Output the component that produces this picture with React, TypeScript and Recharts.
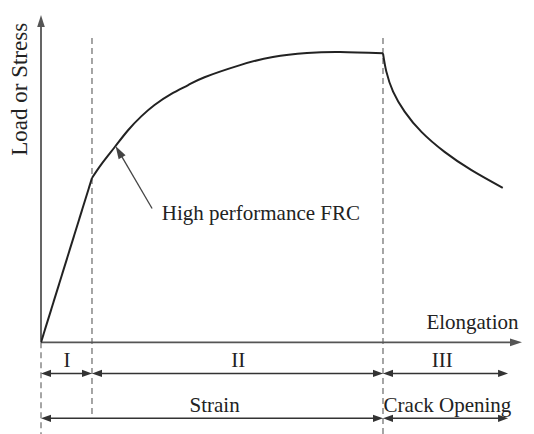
import React from "react";
import { LineChart, Line, XAxis, YAxis, ReferenceLine, ReferenceDot } from "recharts";

// Elongation (x) and Load/Stress (y), arbitrary units
const elasticX = [0, 10.6];
const elasticY = [0, 50.2];
const hardeningX = [10.6, 12.5, 15.3, 18.1, 20.9, 23.6, 27.1, 30.6, 34.0, 41.4, 48.2, 55.3, 62.2, 71.1];
const hardeningY = [50.2, 54.3, 59.6, 64.8, 69.1, 72.5, 75.9, 78.6, 81.0, 84.7, 87.2, 88.4, 88.7, 88.3];
const softeningX = [71.1, 71.8, 73.2, 75.6, 79.1, 83.9, 89.5, 96.0];
const softeningY = [88.3, 82.7, 76.6, 70.5, 64.3, 58.2, 52.6, 47.2];

// Stage boundaries on the elongation axis
const boundaries = [0, 10.6, 71.1];
const stageEnd = 97.1;
const stageLabels = ["I", "II", "III"];
const zoneLabels = ["Strain", "Crack Opening"];

const toRows = (xs: number[], ys: number[]) => xs.map((x, i) => ({ x, y: ys[i] }));
const elastic = toRows(elasticX, elasticY);
const hardening = toRows(hardeningX, hardeningY);
const softening = toRows(softeningX, softeningY);

const FONT = "'Liberation Serif', 'Times New Roman', serif";

type ArrowOpts = {
  color: string;
  width: number;
  start?: boolean;
  end?: boolean;
  head: number;
  half: number;
  dash?: string;
};

const arrowShape = (o: ArrowOpts) => (p: any) => {
  const { x1, y1, x2, y2 } = p;
  const dx = x2 - x1;
  const dy = y2 - y1;
  const len = Math.sqrt(dx * dx + dy * dy) || 1;
  const ux = dx / len;
  const uy = dy / len;
  const nx = -uy;
  const ny = ux;
  const sx = o.start ? x1 + ux * o.head * 0.8 : x1;
  const sy = o.start ? y1 + uy * o.head * 0.8 : y1;
  const ex = o.end ? x2 - ux * o.head * 0.8 : x2;
  const ey = o.end ? y2 - uy * o.head * 0.8 : y2;
  const headAt = (tx: number, ty: number, dirx: number, diry: number) => {
    const bx = tx - dirx * o.head;
    const by = ty - diry * o.head;
    return `${tx},${ty} ${bx + nx * o.half},${by + ny * o.half} ${bx - nx * o.half},${by - ny * o.half}`;
  };
  return (
    <g>
      <line x1={sx} y1={sy} x2={ex} y2={ey} stroke={o.color} strokeWidth={o.width} strokeDasharray={o.dash} />
      {o.start && <polygon points={headAt(x1, y1, -ux, -uy)} fill={o.color} />}
      {o.end && <polygon points={headAt(x2, y2, ux, uy)} fill={o.color} />}
    </g>
  );
};

const textShape = (text: string, size: number, anchor: string, rotate = false) => (p: any) => (
  <text
    x={p.cx}
    y={p.cy}
    fontFamily={FONT}
    fontSize={size}
    fill="#222"
    textAnchor={anchor}
    dominantBaseline={rotate ? "central" : "alphabetic"}
    transform={rotate ? `rotate(-90 ${p.cx} ${p.cy})` : undefined}
  >
    {text}
  </text>
);

const axisArrow = arrowShape({ color: "#555", width: 1.8, end: true, head: 12, half: 3.8 });
const dimArrow = arrowShape({ color: "#333", width: 1.4, start: true, end: true, head: 10, half: 3.6 });
const pointer = arrowShape({ color: "#444", width: 1.3, end: true, head: 13, half: 4 });

export default function App() {
  const row1 = -9.5;
  const row2 = -23.2;
  return (
    <div style={{ position: "absolute", left: 0, top: 0, background: "#fff" }}>
      <LineChart width={534} height={434} margin={{ top: 15, right: 12, bottom: 0, left: 41 }}>
        <XAxis type="number" dataKey="x" domain={[0, 100]} hide allowDataOverflow />
        <YAxis type="number" dataKey="y" domain={[-28, 100]} hide allowDataOverflow />

        {/* dashed stage boundaries */}
        <ReferenceLine segment={[{ x: boundaries[0], y: 0 }, { x: boundaries[0], y: -28 }]} stroke="#888" strokeWidth={1.5} strokeDasharray="6 4" ifOverflow="visible" />
        <ReferenceLine segment={[{ x: boundaries[1], y: 93 }, { x: boundaries[1], y: -22.8 }]} stroke="#888" strokeWidth={1.5} strokeDasharray="6 4" ifOverflow="visible" />
        <ReferenceLine segment={[{ x: boundaries[2], y: 93 }, { x: boundaries[2], y: -28 }]} stroke="#888" strokeWidth={1.5} strokeDasharray="6 4" ifOverflow="visible" />

        {/* axes with arrows */}
        <ReferenceLine segment={[{ x: 0, y: 0 }, { x: 0, y: 100 }]} shape={axisArrow} ifOverflow="visible" />
        <ReferenceLine segment={[{ x: 0, y: 0 }, { x: 100, y: 0 }]} shape={axisArrow} ifOverflow="visible" />

        {/* curve */}
        <Line data={elastic} dataKey="y" type="linear" stroke="#222" strokeWidth={2} dot={false} isAnimationActive={false} />
        <Line data={hardening} dataKey="y" type="natural" stroke="#222" strokeWidth={2} dot={false} isAnimationActive={false} />
        <Line data={softening} dataKey="y" type="natural" stroke="#222" strokeWidth={2} dot={false} isAnimationActive={false} />

        {/* pointer to curve */}
        <ReferenceLine segment={[{ x: 23.1, y: 40.9 }, { x: 15.5, y: 60.0 }]} shape={pointer} ifOverflow="visible" />

        {/* dimension arrows */}
        <ReferenceLine segment={[{ x: boundaries[0], y: row1 }, { x: boundaries[1], y: row1 }]} shape={dimArrow} ifOverflow="visible" />
        <ReferenceLine segment={[{ x: boundaries[1], y: row1 }, { x: boundaries[2], y: row1 }]} shape={dimArrow} ifOverflow="visible" />
        <ReferenceLine segment={[{ x: boundaries[2], y: row1 }, { x: stageEnd, y: row1 }]} shape={dimArrow} ifOverflow="visible" />
        <ReferenceLine segment={[{ x: boundaries[0], y: row2 }, { x: boundaries[2], y: row2 }]} shape={dimArrow} ifOverflow="visible" />
        <ReferenceLine segment={[{ x: boundaries[2], y: row2 }, { x: stageEnd, y: row2 }]} shape={dimArrow} ifOverflow="visible" />

        {/* texts */}
        <ReferenceDot x={5.4} y={-7.6} r={0} shape={textShape(stageLabels[0], 21, "middle")} ifOverflow="visible" />
        <ReferenceDot x={41.0} y={-7.6} r={0} shape={textShape(stageLabels[1], 21, "middle")} ifOverflow="visible" />
        <ReferenceDot x={83.4} y={-7.6} r={0} shape={textShape(stageLabels[2], 21, "middle")} ifOverflow="visible" />
        <ReferenceDot x={36.1} y={-21.4} r={0} shape={textShape(zoneLabels[0], 21, "middle")} ifOverflow="visible" />
        <ReferenceDot x={84.5} y={-21.4} r={0} shape={textShape(zoneLabels[1], 21, "middle")} ifOverflow="visible" />
        <ReferenceDot x={89.7} y={4.2} r={0} shape={textShape("Elongation", 21, "middle")} ifOverflow="visible" />
        <ReferenceDot x={25.1} y={37.3} r={0} shape={textShape("High performance FRC", 21, "start")} ifOverflow="visible" />
        <ReferenceDot x={-4.5} y={77.3} r={0} shape={textShape("Load or Stress", 23, "middle", true)} ifOverflow="visible" />
      </LineChart>
    </div>
  );
}
